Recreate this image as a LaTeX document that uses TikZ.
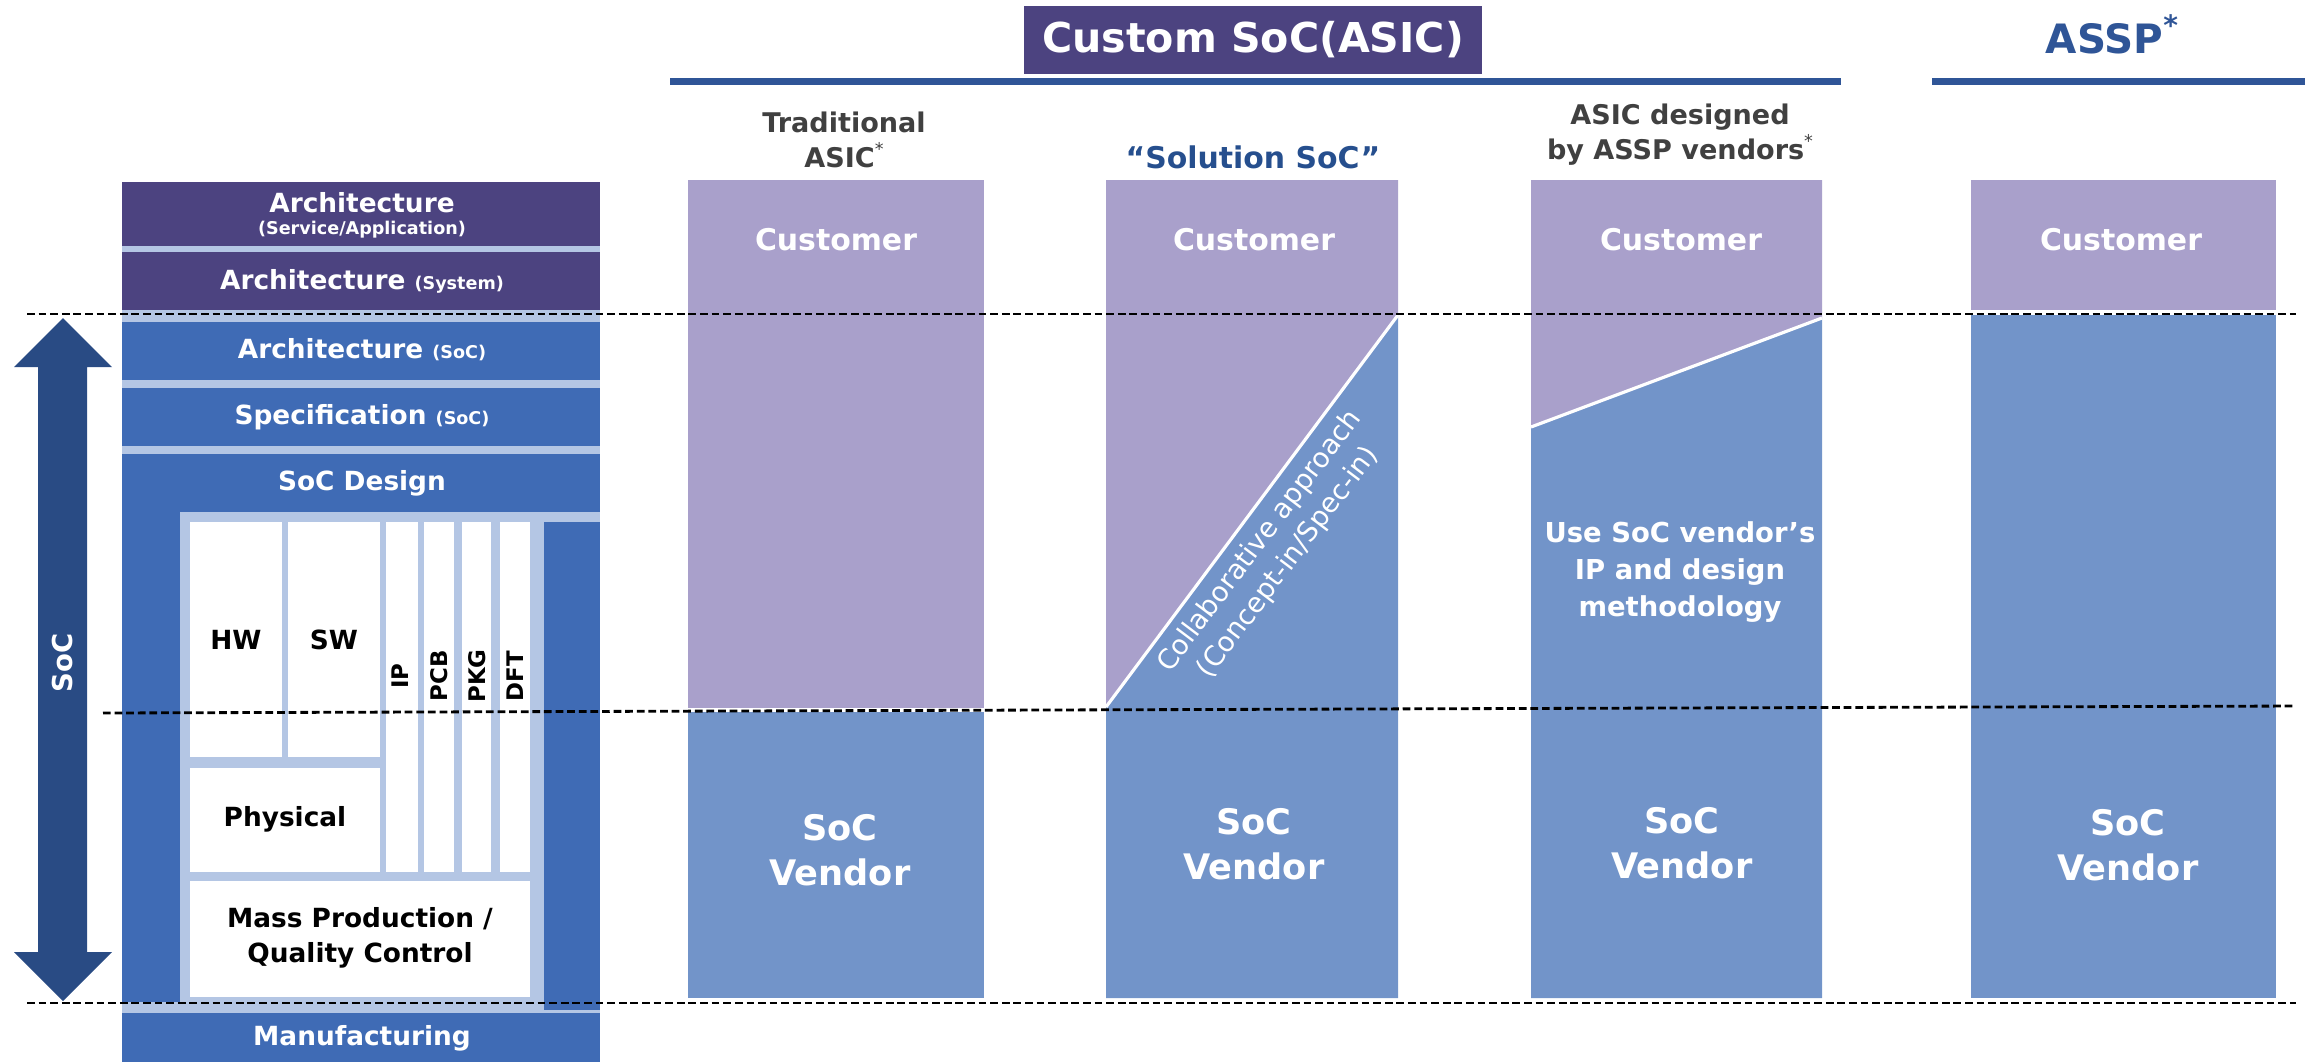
\documentclass[tikz,border=0pt]{standalone}
\usepackage{fontspec}
\setmainfont{DejaVu Sans}
\usetikzlibrary{fit}
\definecolor{archpurple}{HTML}{4C4380}
\definecolor{socblue}{HTML}{3F6BB5}
\definecolor{panelblue}{HTML}{B4C6E4}
\definecolor{custpurple}{HTML}{A9A0CB}
\definecolor{vendblue}{HTML}{7294C9}
\definecolor{arrowblue}{HTML}{294B84}
\definecolor{ruleblue}{HTML}{2F5597}
\definecolor{headgray}{HTML}{404040}
\definecolor{solblue}{HTML}{264F8E}
\newcommand\fsz[2]{\fontsize{#1pt}{#2pt}\selectfont}
\newcommand\supstar{\raisebox{0.45em}{\fsz{5}{6}\mdseries *}}

\begin{document}
\begin{tikzpicture}[x=0.01cm, y=-0.01cm,
  area/.style={inner sep=0pt, outer sep=0pt, draw=none},
  stacktxt/.style={text=white, font=\bfseries\fsz{7.5}{9}, inner sep=0pt, align=center},
  smalltxt/.style={font=\bfseries\fsz{5}{6}},
  celltxt/.style={text=black, font=\bfseries\fsz{7.5}{10}, inner sep=0pt, align=center},
  tagtxt/.style={text=black, font=\bfseries\fsz{6.5}{8}, inner sep=0pt, rotate=90},
  custtxt/.style={text=white, font=\bfseries\fsz{8.5}{10}, inner sep=0pt},
  vendtxt/.style={text=white, font=\bfseries\fsz{10}{12.8}, inner sep=0pt, align=center},
  headtxt/.style={text=headgray, font=\bfseries\fsz{7.7}{10}, inner sep=0pt, align=center},
  dashline/.style={black, line width=0.8pt, dash pattern=on 2.2pt off 1.1pt},
  splitline/.style={white, line width=0.9pt}
]
\useasboundingbox (0,0) rectangle (2305,1062);

% ---------- left stack: design levels ----------
\node[area, fill=panelblue, fit={(122,182)(600,1062)}] (stack) {};
\node[area, fill=archpurple, fit={(122,182)(600,246)}] (archsvc) {};
\node[area, fill=archpurple, fit={(122,252)(600,310)}] (archsys) {};
\node[area, fill=socblue, fit={(122,322)(600,380)}] (archsoc) {};
\node[area, fill=socblue, fit={(122,388)(600,446)}] (spec) {};
\node[area, fill=socblue, fit={(122,454)(600,1002)}] (socdesign) {};
\node[area, fill=panelblue, fit={(180,512)(600,1002)}] (panel) {};
\node[area, fill=socblue, fit={(544,522)(600,1010)}] (rightcol) {};
\node[area, fill=socblue, fit={(122,1013)(600,1062)}] (manuf) {};

% white work packages inside SoC design
\node[area, fill=white, fit={(190,522)(282,757)}] (hw) {};
\node[area, fill=white, fit={(288,522)(380,757)}] (sw) {};
\node[area, fill=white, fit={(386,522)(418,872)}] (ip) {};
\node[area, fill=white, fit={(424,522)(454,872)}] (pcb) {};
\node[area, fill=white, fit={(462,522)(491,872)}] (pkg) {};
\node[area, fill=white, fit={(500,522)(530,872)}] (dft) {};
\node[area, fill=white, fit={(190,768)(380,872)}] (phys) {};
\node[area, fill=white, fit={(190,881)(530,997)}] (mass) {};

% stack labels
\node[stacktxt] (tarchsvc1) at (362,203) {Architecture};
\node[stacktxt, smalltxt] (tarchsvc2) at (362,230) {(Service/Application)};
\node[stacktxt] (tarchsys) at (362,281) {Architecture {\fsz{5}{6}(System)}};
\node[stacktxt] (tarchsoc) at (362,350) {Architecture {\fsz{5}{6}(SoC)}};
\node[stacktxt] (tspec) at (362,417) {Specification {\fsz{5}{6}(SoC)}};
\node[stacktxt] (tsocdesign) at (362,483) {SoC Design};
\node[stacktxt] (tmanuf) at (362,1038) {Manufacturing};

\node[celltxt] (thw) at (236,640) {HW};
\node[celltxt] (tsw) at (334,640) {SW};
\node[tagtxt] (tip) at (400,676) {IP};
\node[tagtxt] (tpcb) at (439,676) {PCB};
\node[tagtxt] (tpkg) at (477,676) {PKG};
\node[tagtxt] (tdft) at (515,676) {DFT};
\node[celltxt] (tphys) at (285,819) {Physical};
\node[celltxt] (tmass) at (360,938) {Mass Production /\\Quality Control};

% SoC scope arrow
\fill[arrowblue] (63,318) -- (112,367) -- (87,367) -- (87,952) -- (112,952)
  -- (63,1001) -- (14,952) -- (38,952) -- (38,367) -- (14,367) -- cycle;
\node[text=white, font=\bfseries\fsz{7.8}{9}, inner sep=0pt, rotate=90] (tsoc) at (63,663) {SoC};

% ---------- headings ----------
\node[area, fill=archpurple, fit={(1024,6)(1482,74)}] (custombox) {};
\node[text=white, font=\bfseries\fsz{11.7}{14}, inner sep=0pt] (tcustom) at (custombox.center) {Custom SoC(ASIC)};
\node[area, fill=ruleblue, fit={(670,78)(1841,85)}] (asicrule) {};
\node[area, fill=ruleblue, fit={(1932,78)(2305,85)}] (assprule) {};
\node[text=ruleblue, font=\bfseries\fsz{11.5}{14}, inner sep=0pt] (tassp) at (2112,34) {ASSP\raisebox{0.45em}{\fsz{8}{9}*}};

\node[headtxt] (ttrad) at (844,140) {Traditional\\ASIC\supstar};
\node[text=solblue, font=\bfseries\fsz{8.5}{10}, inner sep=0pt] (tsol) at (1253,157) {“Solution SoC”};
\node[headtxt] (tbyassp) at (1680,135) {ASIC designed\\by ASSP vendors\supstar};

% ---------- column 1: traditional ASIC ----------
\node[area, fill=custpurple, fit={(688,180)(984,708)}] (c1cust) {};
\node[area, fill=vendblue, fit={(688,712)(984,998)}] (c1vend) {};

% ---------- column 2: solution SoC ----------
\coordinate (c2a) at (1106,707);
\coordinate (c2b) at (1398,315);
\fill[custpurple] (1106,180) -- (1398,180) -- (c2b) -- (c2a) -- cycle;
\fill[vendblue] (c2a) -- (c2b) -- (1398,998) -- (1106,998) -- cycle;
\draw[splitline] (c2a) -- (c2b);
\node[text=white, font=\fsz{7.8}{10}, inner sep=0pt, align=center, rotate=53] (tcollab) at (1274,552)
  {Collaborative approach\\(Concept-in/Spec-in)};

% ---------- column 3: ASIC by ASSP vendors ----------
\coordinate (c3a) at (1531,427);
\coordinate (c3b) at (1822,318);
\fill[custpurple] (1531,180) -- (1822,180) -- (c3b) -- (c3a) -- cycle;
\fill[vendblue] (c3a) -- (c3b) -- (1822,998) -- (1531,998) -- cycle;
\draw[splitline] (c3a) -- (c3b);
\node[text=white, font=\bfseries\fsz{7.8}{10.5}, inner sep=0pt, align=center] (tuseip) at (1680,572)
  {Use SoC vendor’s\\IP and design\\methodology};

% ---------- column 4: ASSP ----------
\node[area, fill=custpurple, fit={(1971,180)(2276,310)}] (c4cust) {};
\node[area, fill=vendblue, fit={(1971,315)(2276,998)}] (c4vend) {};

% column labels
\node[custtxt] (cust1) at (836,240) {Customer};
\node[custtxt] (cust2) at (1254,240) {Customer};
\node[custtxt] (cust3) at (1681,240) {Customer};
\node[custtxt] (cust4) at (2121,240) {Customer};
\node[vendtxt] (vend1) at (840,850) {SoC\\Vendor};
\node[vendtxt] (vend2) at (1254,844) {SoC\\Vendor};
\node[vendtxt] (vend3) at (1682,843) {SoC\\Vendor};
\node[vendtxt] (vend4) at (2128,845) {SoC\\Vendor};

% ---------- boundaries of the SoC scope ----------
\coordinate (topL) at (27,314);
\coordinate (topR) at (2296,314);
\coordinate (midL) at (103,713);
\coordinate (midR) at (2296,706);
\coordinate (botL) at (27,1003);
\coordinate (botR) at (2296,1003);
\draw[dashline] (topL) -- (topR);
\draw[dashline] (midL) -- (midR);
\draw[dashline] (botL) -- (botR);
\end{tikzpicture}
\end{document}
